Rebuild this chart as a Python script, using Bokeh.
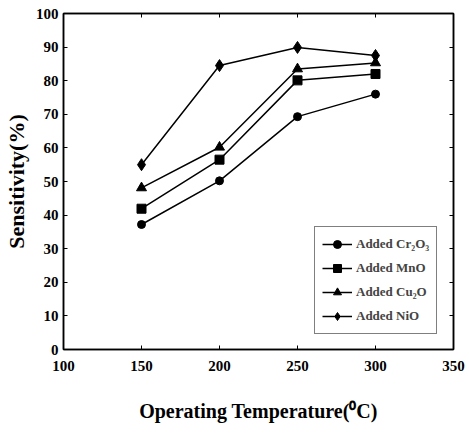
from bokeh.plotting import figure
from bokeh.models import LinearAxis, FixedTicker, Legend, LegendItem, Range1d
from bokeh.embed import file_html
from bokeh.resources import INLINE

temps = [150, 200, 250, 300]
cr2o3 = [37.2, 50.2, 69.3, 76.0]
mno = [41.9, 56.5, 80.1, 82.0]
cu2o = [48.1, 60.2, 83.5, 85.3]
nio = [55.0, 84.5, 89.9, 87.5]
labels = ["Added Cr\u2082O\u2083", "Added MnO", "Added Cu\u2082O", "Added NiO"]
x_ticks = [100, 150, 200, 250, 300, 350]
y_ticks = list(range(0, 101, 10))

FONT = "Liberation Serif"

p = figure(width=469, height=433, output_backend="svg", toolbar_location=None,
           x_range=Range1d(100, 350), y_range=Range1d(0, 100),
           min_border_left=63, min_border_right=16, min_border_top=13, min_border_bottom=84)
p.outline_line_color = "black"
p.outline_line_width = 1.5
p.grid.visible = False
p.background_fill_color = "white"
p.border_fill_color = "white"

for ax in [p.xaxis[0], p.yaxis[0]]:
    ax.major_tick_in = 4
    ax.major_tick_out = 0
    ax.minor_tick_line_color = None
    ax.axis_line_width = 1.5
    ax.major_label_text_font = FONT
    ax.major_label_text_font_style = "bold"
    ax.major_label_text_font_size = "15px"
    ax.major_label_text_color = "black"
    ax.axis_label_text_font = FONT
    ax.axis_label_text_font_style = "bold"
    ax.axis_label_text_color = "black"

p.xaxis.ticker = FixedTicker(ticks=x_ticks)
p.yaxis.ticker = FixedTicker(ticks=y_ticks)
p.xaxis.major_label_standoff = 11
p.yaxis.major_label_standoff = 5
p.xaxis.axis_label = "Operating Temperature(\u2070C)"
p.xaxis.axis_label_text_font_size = "20px"
p.xaxis.axis_label_standoff = 26
p.yaxis.axis_label = "Sensitivity(%)"
p.yaxis.axis_label_text_font_size = "22px"
p.yaxis.axis_label_standoff = 4

top = LinearAxis(ticker=FixedTicker(ticks=x_ticks),
                 major_label_overrides={t: "" for t in x_ticks},
                 major_tick_in=4, major_tick_out=0, minor_tick_line_color=None,
                 major_label_standoff=0, axis_line_width=1.5)
right = LinearAxis(ticker=FixedTicker(ticks=y_ticks),
                   major_label_overrides={t: "" for t in y_ticks},
                   major_tick_in=4, major_tick_out=0, minor_tick_line_color=None,
                   major_label_standoff=0, axis_line_width=1.5)
p.add_layout(top, "above")
p.add_layout(right, "right")

lw = 1.5
r1 = [p.line(temps, cr2o3, line_color="black", line_width=lw),
      p.scatter(temps, cr2o3, marker="circle", size=8, color="black")]
r2 = [p.line(temps, mno, line_color="black", line_width=lw),
      p.scatter(temps, mno, marker="square", size=9, color="black")]
r3 = [p.line(temps, cu2o, line_color="black", line_width=lw),
      p.scatter(temps, cu2o, marker="triangle", size=10, color="black")]
r4 = [p.line(temps, nio, line_color="black", line_width=lw),
      p.scatter(temps, nio, marker="diamond", size=12, color="black")]

legend = Legend(items=[LegendItem(label=labels[0], renderers=r1),
                       LegendItem(label=labels[1], renderers=r2),
                       LegendItem(label=labels[2], renderers=r3),
                       LegendItem(label=labels[3], renderers=r4)],
                location=(251, 15))
legend.label_text_font = FONT
legend.label_text_font_style = "bold"
legend.label_text_font_size = "13px"
legend.glyph_width = 30
legend.glyph_height = 20
legend.spacing = 4
legend.padding = 7
legend.margin = 0
legend.border_line_color = "black"
legend.border_line_width = 1.5
legend.label_standoff = 4
p.add_layout(legend, "center")

open("out.html", "w").write(file_html(p, INLINE))
